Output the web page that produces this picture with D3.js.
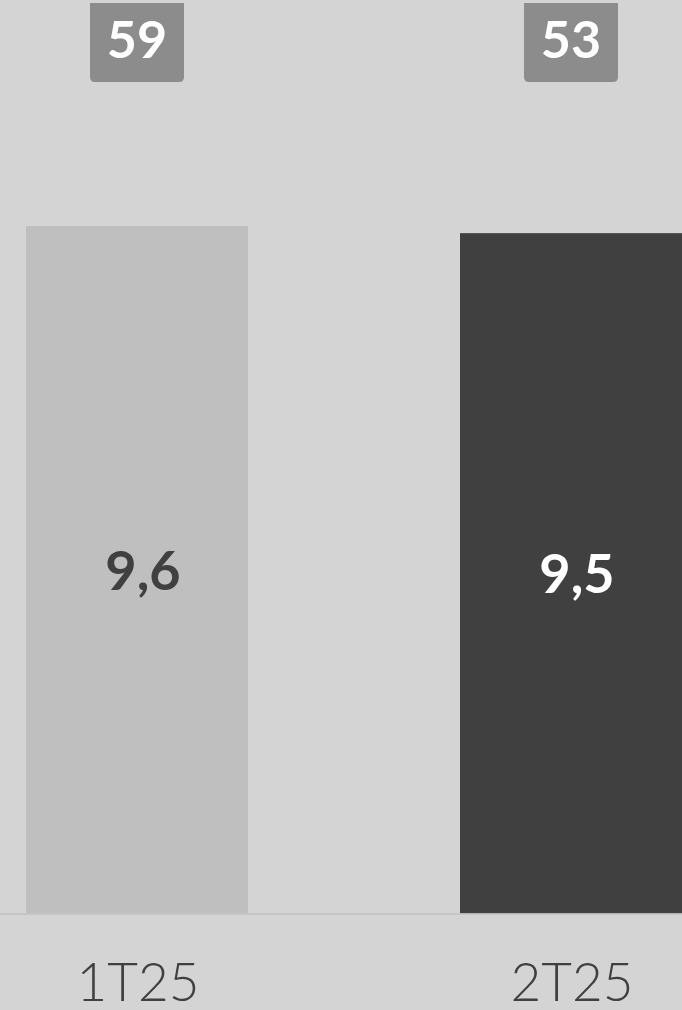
<!DOCTYPE html>
<html>
<head>
<meta charset="utf-8">
<script src="https://cdn.jsdelivr.net/npm/d3@7"></script>
<style>
html,body{margin:0;padding:0;background:#d4d4d4;}
svg{display:block;}
</style>
</head>
<body>
<script>
const categories = ["1T25", "2T25"];
const values = [9.6, 9.5];
const valueLabels = ["9,6", "9,5"];
const badgeValues = [59, 53];

(function () {
const W = 682, H = 1010;
const barColors = ["#bfbfbf", "#404040"];
const valueTextColors = ["#404040", "#ffffff"];

const svg = d3.select("body").append("svg").attr("width", W).attr("height", H);
svg.append("rect").attr("width", W).attr("height", H).attr("fill", "#d4d4d4");

const x = d3.scaleBand().domain(categories).range([26, 682]).paddingInner(0.4885).paddingOuter(0);
const y = d3.scaleLinear().domain([0, 9.6]).range([913.5, 226]);

const data = categories.map((c, i) => ({c, v: values[i], lab: valueLabels[i], badge: badgeValues[i], i}));

svg.selectAll("rect.bar").data(data).enter().append("rect")
  .attr("class", "bar")
  .attr("x", d => x(d.c))
  .attr("width", x.bandwidth())
  .attr("y", d => y(d.v))
  .attr("height", d => y(0) - y(d.v))
  .attr("fill", d => barColors[d.i]);

svg.append("line").attr("x1", 0).attr("x2", W).attr("y1", y(0) + 0.5).attr("y2", y(0) + 0.5)
  .attr("stroke", "#c2c2c2").attr("stroke-width", 1.5);

svg.selectAll("text.val").data(data).enter().append("text")
  .attr("class", "val")
  .attr("x", d => x(d.c) + x.bandwidth() / 2 + 6)
  .attr("y", d => (y(d.v) + y(0)) / 2 + 20)
  .attr("text-anchor", "middle")
  .attr("font-family", "Lato, 'Open Sans', sans-serif")
  .attr("font-weight", 700)
  .attr("font-size", 54)
  .attr("fill", d => valueTextColors[d.i])
  .text(d => d.lab);

const bw = 94, bTop = 3, bBottom = 82, r = 5;
svg.selectAll("path.badge").data(data).enter().append("path")
  .attr("class", "badge")
  .attr("d", d => {
    const cx = x(d.c) + x.bandwidth() / 2;
    const l = cx - bw / 2, rr = cx + bw / 2;
    return `M${l},${bTop} L${rr},${bTop} L${rr},${bBottom - r} Q${rr},${bBottom} ${rr - r},${bBottom} L${l + r},${bBottom} Q${l},${bBottom} ${l},${bBottom - r} Z`;
  })
  .attr("fill", "#8c8c8c");

svg.selectAll("text.badge").data(data).enter().append("text")
  .attr("class", "badge")
  .attr("x", d => x(d.c) + x.bandwidth() / 2)
  .attr("y", 58)
  .attr("text-anchor", "middle")
  .attr("font-family", "Lato, 'Open Sans', sans-serif")
  .attr("font-weight", 700)
  .attr("font-size", 52)
  .attr("fill", "#ffffff")
  .text(d => d.badge);

svg.selectAll("text.cat").data(data).enter().append("text")
  .attr("class", "cat")
  .attr("x", d => x(d.c) + x.bandwidth() / 2 + 1)
  .attr("y", 1001)
  .attr("text-anchor", "middle")
  .attr("font-family", "Lato, 'Open Sans', sans-serif")
  .attr("font-weight", 300)
  .attr("font-size", 53)
  .attr("fill", "#404040")
  .text(d => d.c);
})();
</script>
</body>
</html>
